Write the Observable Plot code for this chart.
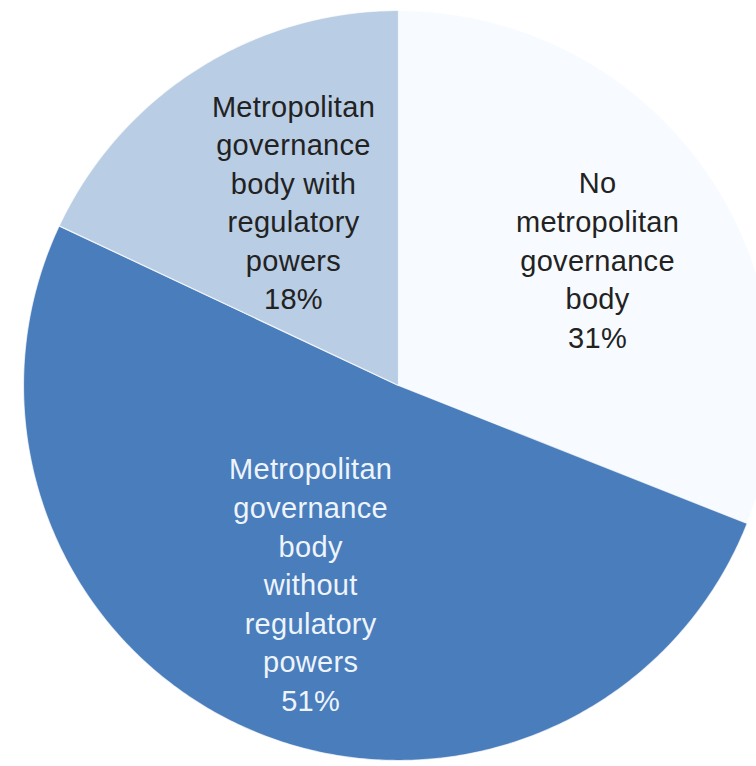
<!DOCTYPE html>
<html>
<head>
<meta charset="utf-8">
<script src="https://cdn.jsdelivr.net/npm/d3@7"></script>
<script src="https://cdn.jsdelivr.net/npm/@observablehq/plot@0.6"></script>
<style>
  html, body { margin: 0; padding: 0; background: #ffffff; }
  #chart svg { display: block; }
  #chart svg text { letter-spacing: 0.3px; }
</style>
</head>
<body>
<div id="chart"></div>
<script>
// Data (clockwise from 12 o'clock)
const categories = [
  "No\nmetropolitan\ngovernance\nbody",
  "Metropolitan\ngovernance\nbody\nwithout\nregulatory\npowers",
  "Metropolitan\ngovernance\nbody with\nregulatory\npowers"
];
const shares = [31, 51, 18];
const colors = ["#f7fbff", "#4a7dbb", "#b9cde4"];
const labelColors = ["#222222", "#eef4fb", "#222222"];

// layout
const W = 756, H = 766;
const R = 375;            // radius in px
const cx = 398, cy = 385; // centre in px
const labelRadius = [0.63, 0.576, 0.567]; // fraction of radius for each label
const labelTurn = [1.6, 0.6, 2.8];        // small angular nudge (degrees)

// angles from the data
const total = d3.sum(shares);
let acc = 0;
const slices = shares.map((v, i) => {
  const a0 = acc / total * 2 * Math.PI;
  acc += v;
  const a1 = acc / total * 2 * Math.PI;
  return {i, name: categories[i], value: v, a0, a1};
});

// polygon points of each sector (unit circle, y up, angle clockwise from top)
const pts = [];
for (const s of slices) {
  pts.push({i: s.i, x: 0, y: 0});
  const n = Math.max(8, Math.ceil((s.a1 - s.a0) / 0.01));
  for (let k = 0; k <= n; k++) {
    const a = s.a0 + (s.a1 - s.a0) * k / n;
    pts.push({i: s.i, x: Math.sin(a), y: Math.cos(a)});
  }
  pts.push({i: s.i, x: 0, y: 0});
}

const labels = slices.map(s => {
  const m = (s.a0 + s.a1) / 2 + labelTurn[s.i] * Math.PI / 180;
  const r = labelRadius[s.i];
  return {i: s.i, x: r * Math.sin(m), y: r * Math.cos(m), text: s.name + "\n" + s.value + "%"};
});

const chart = Plot.plot({
  width: W,
  height: H,
  margin: 0,
  x: {domain: [-cx / R, (W - cx) / R], range: [0, W], axis: null},
  y: {domain: [-(H - cy) / R, cy / R], range: [H, 0], axis: null},
  style: {background: "#ffffff", fontFamily: "'Liberation Sans', Arial, sans-serif"},
  marks: [
    Plot.line(pts, {
      x: "x", y: "y", z: "i",
      fill: d => colors[d.i],
      stroke: "#ffffff", strokeWidth: 1.2, strokeOpacity: 0.7,
      curve: "linear-closed"
    }),
    Plot.text(labels, {
      x: "x", y: "y", text: "text",
      fill: d => labelColors[d.i],
      fontSize: 29, lineHeight: 1.33,
      textAnchor: "middle"
    })
  ]
});
document.getElementById("chart").append(chart);
</script>
</body>
</html>
